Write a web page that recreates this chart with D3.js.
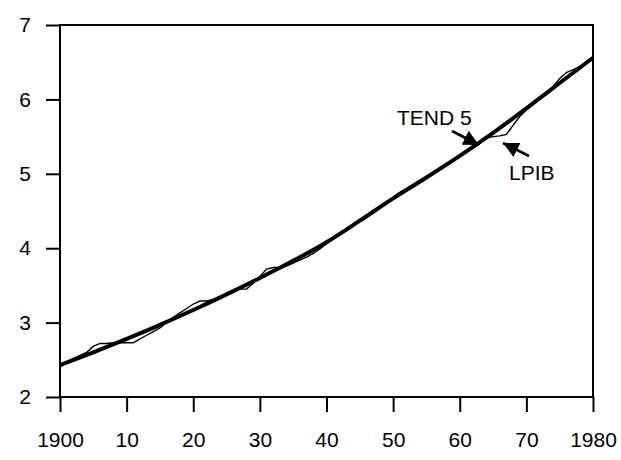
<!DOCTYPE html>
<html>
<head>
<meta charset="utf-8">
<script src="https://cdn.jsdelivr.net/npm/d3@7"></script>
<style>
  body { margin: 0; background: #fff; }
  text { font-family: "Liberation Sans", Arial, Helvetica, sans-serif; fill: #000; }
</style>
</head>
<body>
<div id="chart"></div>
<script>
// LPIB, yearly 1900-1980
var years = d3.range(1900, 1981);
var lpib = [2.40, 2.47, 2.52, 2.56, 2.60, 2.68, 2.72, 2.72, 2.73, 2.73,
            2.73, 2.73, 2.78, 2.83, 2.88, 2.93, 3.00, 3.07, 3.13, 3.19,
            3.25, 3.29, 3.29, 3.31, 3.34, 3.38, 3.42, 3.45, 3.45, 3.53,
            3.62, 3.72, 3.74, 3.74, 3.76, 3.80, 3.84, 3.88, 3.93, 3.99,
            4.06, 4.13, 4.19, 4.25, 4.31, 4.37, 4.43, 4.49, 4.55, 4.61,
            4.68, 4.75, 4.80, 4.85, 4.90, 4.95, 5.01, 5.07, 5.12, 5.18,
            5.24, 5.30, 5.36, 5.42, 5.48, 5.50, 5.51, 5.53, 5.65, 5.77,
            5.86, 5.94, 6.01, 6.08, 6.17, 6.28, 6.36, 6.40, 6.44, 6.50,
            6.56];

// TEND 5, every 5 years
var tendYears = d3.range(1900, 1981, 5);
var tend = [2.43, 2.60, 2.78, 2.97, 3.17, 3.38, 3.60, 3.83, 4.08,
            4.37, 4.67, 4.95, 5.24, 5.55, 5.88, 6.22, 6.56];

var xTicks = [1900, 1910, 1920, 1930, 1940, 1950, 1960, 1970, 1980];
var xTickLabels = ["1900", "10", "20", "30", "40", "50", "60", "70", "1980"];
var yTicks = [2, 3, 4, 5, 6, 7];

var width = 621,
    height = 460;

var x = d3.scaleLinear().domain([1900, 1980]).range([60, 593]);
var y = d3.scaleLinear().domain([2, 7]).range([397, 25]);

var svg = d3.select("#chart").append("svg")
    .attr("width", width)
    .attr("height", height);

// axes
var xAxis = svg.append("g")
    .attr("transform", "translate(0," + y(2) + ")")
    .call(d3.axisBottom(x)
      .tickValues(xTicks)
      .tickSize(15)
      .tickPadding(20)
      .tickFormat(function(d, i) { return xTickLabels[i]; }));

var yAxis = svg.append("g")
    .attr("transform", "translate(" + x(1900) + ",0)")
    .call(d3.axisLeft(y)
      .tickValues(yTicks)
      .tickSize(14)
      .tickPadding(15)
      .tickFormat(d3.format("d")));

[xAxis, yAxis].forEach(function(a) {
  a.select(".domain").remove();
  a.selectAll("line").attr("stroke", "#000").attr("stroke-width", 2);
  a.selectAll("text").style("font-size", "21px");
});

// frame
svg.append("rect")
    .attr("x", x(1900))
    .attr("y", y(7))
    .attr("width", x(1980) - x(1900))
    .attr("height", y(2) - y(7))
    .attr("fill", "none")
    .attr("stroke", "#000")
    .attr("stroke-width", 2);

var line = d3.line()
    .x(function(d) { return x(d[0]); })
    .y(function(d) { return y(d[1]); });

svg.append("path")
    .datum(d3.zip(tendYears, tend))
    .attr("d", line.curve(d3.curveMonotoneX))
    .attr("fill", "none")
    .attr("stroke", "#000")
    .attr("stroke-width", 4);

svg.append("path")
    .datum(d3.zip(years, lpib))
    .attr("d", line.curve(d3.curveLinear))
    .attr("fill", "none")
    .attr("stroke", "#000")
    .attr("stroke-width", 1.4);

// annotations
var defs = svg.append("defs");
defs.append("marker")
    .attr("id", "head")
    .attr("viewBox", "0 0 10 10")
    .attr("refX", 10)
    .attr("refY", 5)
    .attr("markerWidth", 6)
    .attr("markerHeight", 6)
    .attr("markerUnits", "strokeWidth")
    .attr("orient", "auto")
  .append("path")
    .attr("d", "M0,0L10,5L0,10Z")
    .attr("fill", "#000");

svg.append("text")
    .attr("x", 397)
    .attr("y", 125)
    .style("font-size", "21px")
    .text("TEND 5");

svg.append("line")
    .attr("x1", 452).attr("y1", 131)
    .attr("x2", 479).attr("y2", 145)
    .attr("stroke", "#000")
    .attr("stroke-width", 2.6)
    .attr("marker-end", "url(#head)");

svg.append("text")
    .attr("x", 509)
    .attr("y", 180)
    .style("font-size", "21px")
    .text("LPIB");

svg.append("line")
    .attr("x1", 529).attr("y1", 156)
    .attr("x2", 503).attr("y2", 143)
    .attr("stroke", "#000")
    .attr("stroke-width", 2.6)
    .attr("marker-end", "url(#head)");
</script>
</body>
</html>
